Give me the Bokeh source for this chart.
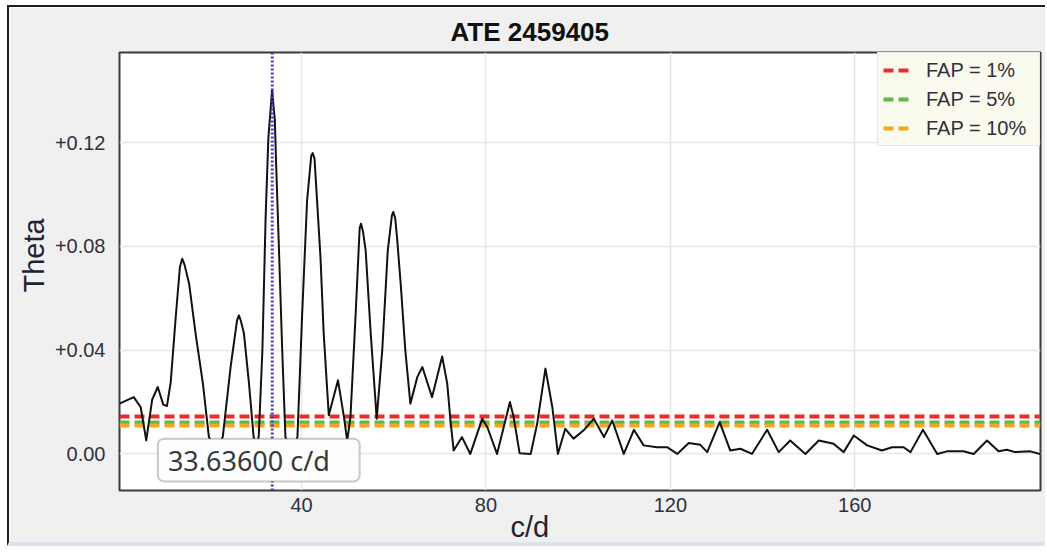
from bokeh.plotting import figure
from bokeh.models import (FixedTicker, CustomJSTickFormatter, Legend, LegendItem,
                          Label, BoxAnnotation, Title, Span)
from bokeh.embed import file_html
from bokeh.resources import INLINE

# ---------------- data ----------------
title_text = "ATE 2459405"
x_label = "c/d"
y_label = "Theta"
peak_freq = 33.636

freq = [0.5, 3.6, 5.1, 6.3, 7.6, 8.8, 10.0, 10.8, 11.6, 12.7, 13.6, 14.1, 14.6, 15.6, 17.0,
        18.6, 19.9, 21.4, 22.9, 24.6, 26.0, 26.4, 26.8, 27.5, 28.6, 29.6, 30.1, 30.7, 31.5,
        32.2, 32.8, 33.6, 34.2, 34.5, 35.1, 35.8, 36.5, 37.8, 39.1, 40.1, 41.2, 42.1, 42.4,
        42.8, 44.1, 44.8, 45.9, 47.9, 49.2, 49.9, 50.6, 51.7, 52.6, 52.9, 53.3, 53.9, 55.0,
        56.3, 57.5, 58.7, 59.6, 59.9, 60.3, 60.7, 61.5, 62.5, 63.6, 65.1, 66.2, 68.3, 70.5,
        71.6, 72.3, 73.0, 74.8, 76.6, 79.2, 80.3, 82.4, 85.2, 86.0, 87.3, 89.7, 91.1, 92.9,
        94.4, 95.6, 97.2, 99.0, 101.2, 103.4, 105.6, 107.4, 109.9, 112.1, 114.2, 117.1, 119.3,
        121.5, 124.0, 126.5, 128.0, 130.7, 133.0, 135.2, 137.7, 141.0, 143.5, 146.0, 149.3,
        152.2, 155.4, 157.6, 159.8, 162.7, 165.9, 168.1, 170.6, 172.1, 174.8, 177.9, 180.0,
        183.6, 185.8, 188.7, 191.2, 193.0, 194.8, 198.1, 200.2]
theta = [0.0194, 0.0219, 0.0180, 0.0052, 0.0210, 0.0258, 0.0190, 0.0185, 0.0275, 0.0528,
         0.0720, 0.0753, 0.0730, 0.0657, 0.0465, 0.0270, 0.0065, 0.0015, 0.0065, 0.0335,
         0.0515, 0.0534, 0.0515, 0.0464, 0.0270, 0.0065, 0.0040, 0.0065, 0.0400, 0.0914,
         0.1220, 0.1402, 0.1287, 0.1106, 0.0785, 0.0400, 0.0065, 0.0010, 0.0065, 0.0528,
         0.0978, 0.1150, 0.1160, 0.1140, 0.0759, 0.0464, 0.0149, 0.0284, 0.0142, 0.0050,
         0.0142, 0.0528, 0.0870, 0.0888, 0.0860, 0.0785, 0.0464, 0.0136, 0.0400, 0.0785,
         0.0920, 0.0933, 0.0910, 0.0836, 0.0657, 0.0400, 0.0194, 0.0296, 0.0335, 0.0219,
         0.0376, 0.0271, 0.0129, 0.0013, 0.0065, 0.0000, 0.0136, 0.0103, 0.0000, 0.0200,
         0.0142, 0.0003, 0.0000, 0.0116, 0.0329, 0.0180, 0.0000, 0.0097, 0.0059, 0.0091,
         0.0136, 0.0065, 0.0129, 0.0000, 0.0093, 0.0033, 0.0026, 0.0026, 0.0000, 0.0042,
         0.0035, 0.0007, 0.0123, 0.0013, 0.0020, 0.0000, 0.0093, 0.0007, 0.0052, 0.0000,
         0.0052, 0.0039, 0.0007, 0.0071, 0.0033, 0.0013, 0.0026, 0.0026, 0.0007, 0.0093,
         0.0000, 0.0010, 0.0010, 0.0000, 0.0052, 0.0010, 0.0016, 0.0007, 0.0010, 0.0000]

fap_labels = ["FAP = 1%", "FAP = 5%", "FAP = 10%"]
fap_levels = [0.0145, 0.0120, 0.0108]
fap_colors = ["#ee2b2b", "#5cb94a", "#f5a623"]

x_ticks = [40, 80, 120, 160]
y_ticks = [0.0, 0.04, 0.08, 0.12]

# ---------------- figure ----------------
p = figure(width=1038, height=541, x_range=(0.5, 200.3), y_range=(-0.0141, 0.1548),
           output_backend="svg", toolbar_location=None,
           min_border_left=110, min_border_right=7, min_border_top=45, min_border_bottom=58)
p.margin = (5, 0, 0, 7)
p.styles = {"border-left": "2px solid #1e1e1e", "border-top": "2px solid #1e1e1e",
            "border-bottom": "4px solid #dbe5ef"}

p.border_fill_color = "#f0f0f0"
p.background_fill_color = "#ffffff"
p.outline_line_color = "#3a3a3a"
p.outline_line_width = 2

# title (shifted to match the original placement)
p.title.text = title_text
p.title.align = "left"
p.title.offset = 331
p.title.standoff = 12
p.title.vertical_align = "bottom"
p.title.text_font = "Liberation Sans"
p.title.text_font_style = "bold"
p.title.text_font_size = "26px"
p.title.text_color = "#111111"

for ax in (p.xaxis, p.yaxis):
    ax.major_tick_in = 0
    ax.major_tick_out = 0
    ax.minor_tick_in = 0
    ax.minor_tick_out = 0
    ax.axis_line_color = None
    ax.major_label_text_font = "Liberation Sans"
    ax.major_label_text_font_size = "20px"
    ax.major_label_text_color = "#30303c"

p.xaxis.ticker = FixedTicker(ticks=x_ticks)
p.yaxis.ticker = FixedTicker(ticks=y_ticks)
p.yaxis.formatter = CustomJSTickFormatter(
    code="return tick == 0 ? '0.00' : (tick > 0 ? '+' : '') + tick.toFixed(2);")
p.xaxis.major_label_standoff = 7
p.yaxis.major_label_standoff = 14

# axis titles as side titles so they can be offset like the original
p.add_layout(Title(text=x_label, align="left", offset=391, standoff=-8,
                   vertical_align="top", text_font="Liberation Sans",
                   text_font_style="normal", text_font_size="29px",
                   text_color="#222233"), "below")
p.add_layout(Title(text=y_label, align="left", offset=198, standoff=4,
                   vertical_align="bottom", text_font="Liberation Sans",
                   text_font_style="normal", text_font_size="29px",
                   text_color="#222233"), "left")

p.xgrid.grid_line_color = "#e6e6e6"
p.ygrid.grid_line_color = "#e6e6e6"
p.xgrid.grid_line_width = 1.5
p.ygrid.grid_line_width = 1.5

# FAP levels
items = []
for lab, lev, col in zip(fap_labels, fap_levels, fap_colors):
    r = p.hspan(y=[lev], line_color=col, line_width=4, line_dash="10 5")
    items.append(LegendItem(label=lab, renderers=[r]))

# periodogram
p.line(freq, theta, line_color="#111111", line_width=2, line_join="round")

# peak marker
p.add_layout(Span(location=peak_freq, dimension="height", line_color="#3f3fcf",
                  line_width=3, line_dash="2 2"))

legend = Legend(items=items, location="top_right")
legend.label_text_font = "Liberation Sans"
legend.label_text_font_size = "20px"
legend.label_text_color = "#30303c"
legend.background_fill_color = "#fafaee"
legend.background_fill_alpha = 1
legend.border_line_color = "#d5d5cc"
legend.border_line_width = 1
legend.glyph_width = 28
legend.glyph_height = 24
legend.label_height = 24
legend.label_width = 108
legend.label_standoff = 15
legend.spacing = 5
legend.padding = 5
legend.margin = 0
p.add_layout(legend)

# cursor readout box
box = BoxAnnotation(left=8.83, right=52.6, bottom=-0.0106, top=0.0059,
                    fill_color="#fdfdfd", fill_alpha=1,
                    line_color="#4a4a4a", line_width=2, border_radius=6)
p.add_layout(box)
p.add_layout(Label(x=8.83, y=(-0.0106 + 0.0059) / 2, x_offset=10,
                   text=f"{peak_freq:.5f} c/d", text_font="Noto Sans",
                   text_font_size="27px", text_color="#383838",
                   text_baseline="middle", text_align="left"))

open("out.html", "w").write(file_html(p, INLINE))
